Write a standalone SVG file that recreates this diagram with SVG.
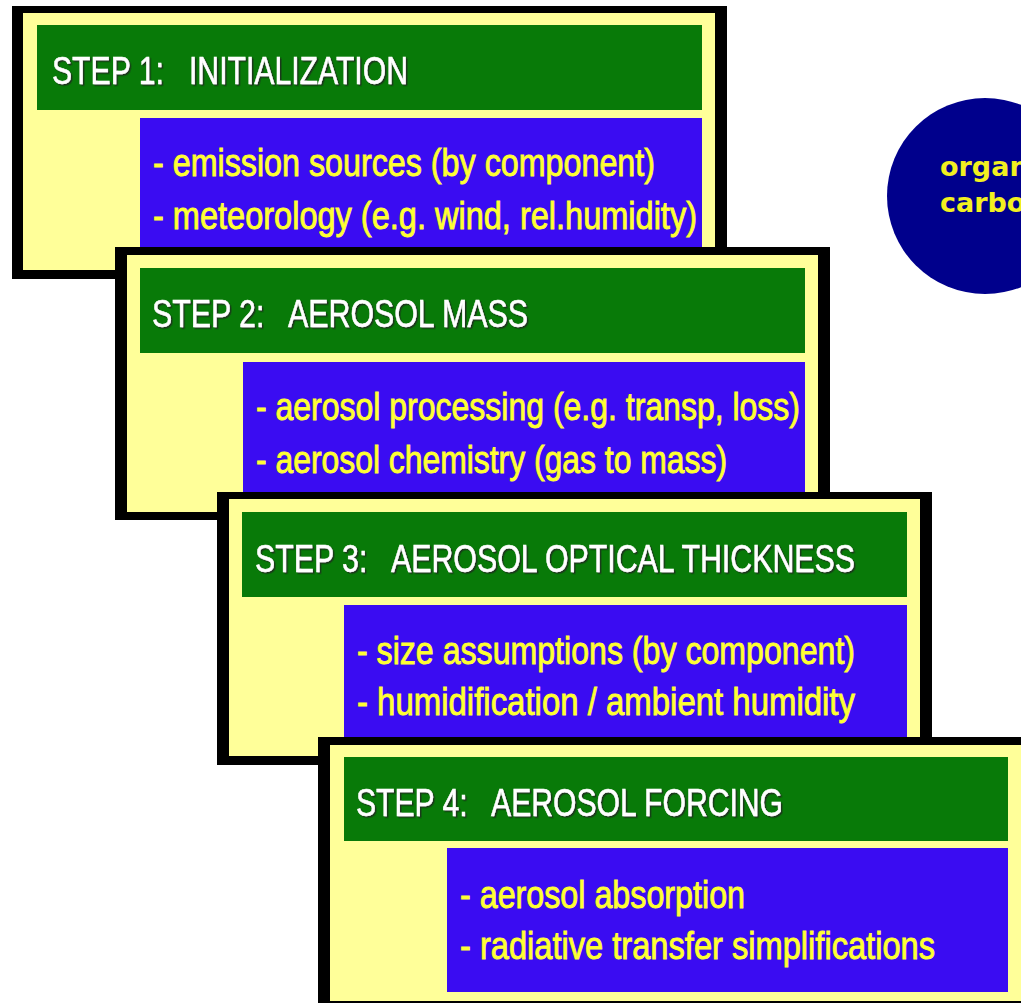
<svg xmlns="http://www.w3.org/2000/svg" width="1021" height="1003" viewBox="0 0 1021 1003">
  <defs>
    <filter id="shadow" x="-5%" y="-20%" width="110%" height="150%">
      <feDropShadow dx="1.5" dy="1.5" stdDeviation="0.6" flood-color="#1e2e1e" flood-opacity="0.9"/>
    </filter>
    <style>
      .frame { fill: #000000; }
      .paper { fill: #ffff99; }
      .head { fill: #087a08; }
      .body { fill: #3a0cf2; }
      .htxt { font-family: "Liberation Sans Narrow", "Liberation Sans", Arial, sans-serif; font-size: 39px; fill: #ffffff; stroke: #ffffff; stroke-width: 0.5px; white-space: pre; filter: url(#shadow); }
      .btxt { font-family: "Liberation Sans Narrow", "Liberation Sans", Arial, sans-serif; font-size: 39px; fill: #ffff33; stroke: #ffff33; stroke-width: 0.9px; white-space: pre; }
      .otxt { font-family: "DejaVu Sans", Verdana, sans-serif; font-weight: bold; font-size: 27px; fill: #f2f020; }
    </style>
  </defs>
  <rect x="0" y="0" width="1021" height="1003" fill="#ffffff"/>

  <g id="step1" transform="translate(12,6)">
    <rect class="frame" x="0" y="0" width="715" height="273"/>
    <rect class="paper" x="11" y="7" width="692" height="257"/>
    <rect class="head" x="25" y="19" width="665" height="85"/>
    <rect class="body" x="128" y="112" width="562" height="143"/>
    <text class="htxt" x="40" y="78" textLength="356" lengthAdjust="spacingAndGlyphs">STEP 1:   INITIALIZATION</text>
    <text class="btxt" x="141" y="170" textLength="502" lengthAdjust="spacingAndGlyphs">- emission sources (by component)</text>
    <text class="btxt" x="141" y="223" textLength="544" lengthAdjust="spacingAndGlyphs">- meteorology (e.g. wind, rel.humidity)</text>
  </g>

  <g id="step2" transform="translate(115,247)">
    <rect class="frame" x="0" y="0" width="715" height="273"/>
    <rect class="paper" x="12" y="8" width="691" height="257"/>
    <rect class="head" x="25" y="21" width="665" height="85"/>
    <rect class="body" x="128" y="115" width="562" height="143"/>
    <text class="htxt" x="37" y="80" textLength="376" lengthAdjust="spacingAndGlyphs">STEP 2:   AEROSOL MASS</text>
    <text class="btxt" x="141" y="173" textLength="544" lengthAdjust="spacingAndGlyphs">- aerosol processing (e.g. transp, loss)</text>
    <text class="btxt" x="141" y="226" textLength="471" lengthAdjust="spacingAndGlyphs">- aerosol chemistry (gas to mass)</text>
  </g>

  <g id="step3" transform="translate(217,492)">
    <rect class="frame" x="0" y="0" width="715" height="273"/>
    <rect class="paper" x="12" y="7" width="691" height="257"/>
    <rect class="head" x="25" y="20" width="665" height="85"/>
    <rect class="body" x="127" y="113" width="563" height="143"/>
    <text class="htxt" x="38" y="80" textLength="600" lengthAdjust="spacingAndGlyphs">STEP 3:   AEROSOL OPTICAL THICKNESS</text>
    <text class="btxt" x="140" y="172" textLength="498" lengthAdjust="spacingAndGlyphs">- size assumptions (by component)</text>
    <text class="btxt" x="140" y="223" textLength="498" lengthAdjust="spacingAndGlyphs">- humidification / ambient humidity</text>
  </g>

  <g id="step4" transform="translate(318,737)">
    <rect class="frame" x="0" y="0" width="715" height="273"/>
    <rect class="paper" x="12" y="8" width="691" height="256"/>
    <rect class="head" x="26" y="20" width="664" height="84"/>
    <rect class="body" x="129" y="111" width="561" height="144"/>
    <text class="htxt" x="38" y="79" textLength="427" lengthAdjust="spacingAndGlyphs">STEP 4:   AEROSOL FORCING</text>
    <text class="btxt" x="142" y="171" textLength="285" lengthAdjust="spacingAndGlyphs">- aerosol absorption</text>
    <text class="btxt" x="142" y="222" textLength="475" lengthAdjust="spacingAndGlyphs">- radiative transfer simplifications</text>
  </g>

  <g id="organic-carbon">
    <circle cx="985" cy="196" r="98" fill="#00008c"/>
    <text class="otxt" x="940" y="176">organ</text>
    <text class="otxt" x="940" y="212">carbo</text>
  </g>

  <g id="connectors"/>
</svg>
